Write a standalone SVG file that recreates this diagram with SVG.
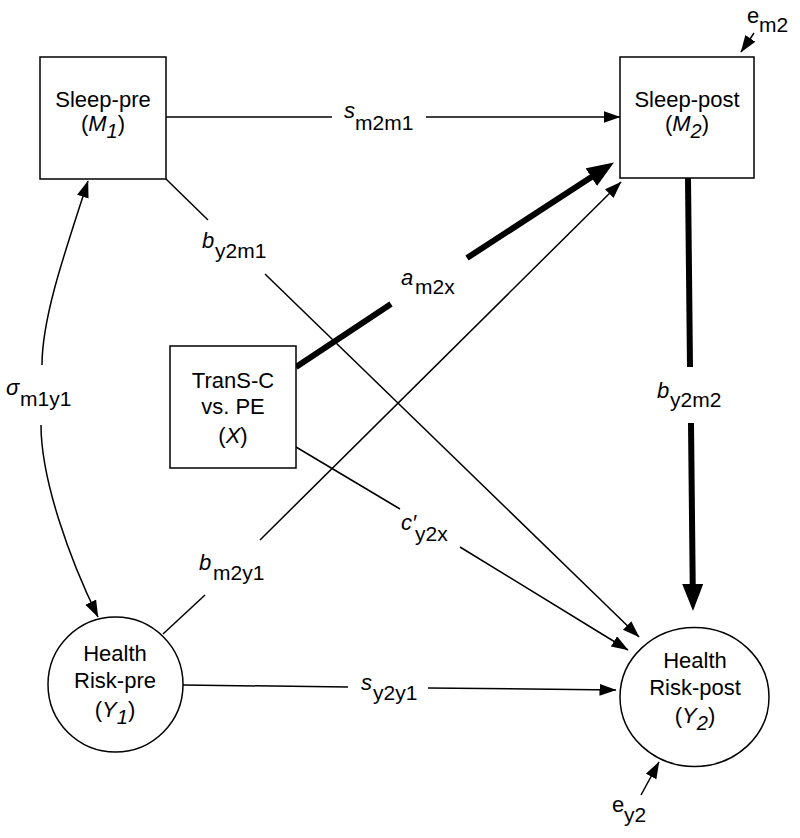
<svg xmlns="http://www.w3.org/2000/svg" width="800" height="838" viewBox="0 0 800 838">
<style>
  .box{fill:#fff;stroke:#000;stroke-width:1.5}
  .ln{stroke:#000;stroke-width:1.5;fill:none}
  .thick{stroke:#000;stroke-width:6;fill:none}
  text{font-family:"Liberation Sans",Arial,Helvetica,sans-serif;fill:#000}
  .nt{font-size:22px;text-anchor:middle}
  .it{font-style:italic}
  .lb{font-size:22px}
  .sub{font-size:21px;font-style:normal}
</style>
<defs>
  <marker id="ah" markerUnits="userSpaceOnUse" markerWidth="18" markerHeight="13" refX="16.5" refY="6" orient="auto-start-reverse" viewBox="0 0 18 13">
    <path d="M0,0 L17,6 L0,12 z" fill="#000"/>
  </marker>
  <marker id="ahb" markerUnits="userSpaceOnUse" markerWidth="28" markerHeight="22" refX="8" refY="10.5" orient="auto" viewBox="0 0 28 22">
    <path d="M0,0 L27,10.5 L0,21 z" fill="#000"/>
  </marker>
</defs>
<rect width="800" height="838" fill="#fff"/>

<g id="connectors">
  <!-- s_m2m1 -->
  <path class="ln" d="M166 117 L332 117"/>
  <path class="ln" d="M426 117 L620 117" marker-end="url(#ah)"/>
  <!-- b_y2m1 -->
  <path class="ln" d="M166 179 L208 220"/>
  <path class="ln" d="M265 274 L639 637" marker-end="url(#ah)"/>
  <!-- sigma m1y1 -->
  <path class="ln" d="M42 365 C42 320 62 260 88 181" marker-end="url(#ah)"/>
  <path class="ln" d="M41 425 C41 480 70 560 98 617" marker-end="url(#ah)"/>
  <!-- a_m2x -->
  <path class="thick" d="M296 367 L391 304"/>
  <path class="thick" d="M467 258 L598 172.8" marker-end="url(#ahb)"/>
  <!-- b_m2y1 -->
  <path class="ln" d="M163 634 L205 595"/>
  <path class="ln" d="M260 540 L621 182" marker-end="url(#ah)"/>
  <!-- c'_y2x -->
  <path class="ln" d="M296 447 L400 509"/>
  <path class="ln" d="M460 547 L628 650" marker-end="url(#ah)"/>
  <!-- b_y2m2 -->
  <path class="thick" d="M688 178 L690 367"/>
  <path class="thick" d="M691 423 L692.8 592" marker-end="url(#ahb)"/>
  <!-- s_y2y1 -->
  <path class="ln" d="M183 685 L348 687"/>
  <path class="ln" d="M428 688 L616 690" marker-end="url(#ah)"/>
  <!-- error terms -->
  <path class="ln" d="M754 33 L741 52" marker-end="url(#ah)"/>
  <path class="ln" d="M641 795 L659 762" marker-end="url(#ah)"/>

  <!-- labels -->
  <text class="lb"><tspan class="it" x="344" y="118">s</tspan><tspan class="sub" x="355" y="130">m2m1</tspan></text>
  <text class="lb"><tspan class="it" x="202" y="248">b</tspan><tspan class="sub" x="215" y="258">y2m1</tspan></text>
  <text class="lb"><tspan class="it" x="401" y="285">a</tspan><tspan class="sub" x="415" y="294">m2x</tspan></text>
  <text class="lb"><tspan class="it" x="6" y="395">σ</tspan><tspan class="sub" x="20" y="406">m1y1</tspan></text>
  <text class="lb"><tspan class="it" x="657" y="398">b</tspan><tspan class="sub" x="670" y="407">y2m2</tspan></text>
  <text class="lb"><tspan class="it" x="401" y="530">c′</tspan><tspan class="sub" x="415" y="541">y2x</tspan></text>
  <text class="lb"><tspan class="it" x="199" y="570">b</tspan><tspan class="sub" x="213" y="580">m2y1</tspan></text>
  <text class="lb"><tspan class="it" x="361" y="690">s</tspan><tspan class="sub" x="373" y="700">y2y1</tspan></text>
  <text class="lb"><tspan x="747" y="23">e</tspan><tspan class="sub" x="759" y="32">m2</tspan></text>
  <text class="lb"><tspan x="612" y="812">e</tspan><tspan class="sub" x="624" y="822">y2</tspan></text>
</g>

<g id="n_m1">
  <rect class="box" x="40" y="57" width="126" height="122"/>
  <text class="nt" x="103" y="107">Sleep-pre</text>
  <text class="nt" x="103" y="131">(<tspan class="it">M</tspan><tspan class="it" font-size="20" dy="7">1</tspan><tspan dy="-7">)</tspan></text>
</g>

<g id="n_m2">
  <rect class="box" x="620" y="57" width="134" height="121"/>
  <text class="nt" x="687" y="107">Sleep-post</text>
  <text class="nt" x="687" y="131">(<tspan class="it">M</tspan><tspan class="it" font-size="20" dy="7">2</tspan><tspan dy="-7">)</tspan></text>
</g>

<g id="n_x">
  <rect class="box" x="170" y="346" width="126" height="122"/>
  <text class="nt" x="233" y="388">TranS-C</text>
  <text class="nt" x="233" y="414">vs. PE</text>
  <text class="nt" x="233" y="443">(<tspan class="it">X</tspan>)</text>
</g>

<g id="n_y1">
  <circle class="box" cx="115.5" cy="684.5" r="67.5"/>
  <text class="nt" x="115" y="661">Health</text>
  <text class="nt" x="115" y="688">Risk-pre</text>
  <text class="nt" x="115" y="717">(<tspan class="it">Y</tspan><tspan class="it" font-size="20" dy="7">1</tspan><tspan dy="-7">)</tspan></text>
</g>

<g id="n_y2">
  <ellipse class="box" cx="694.5" cy="697" rx="74.5" ry="69.5"/>
  <text class="nt" x="695" y="668">Health</text>
  <text class="nt" x="695" y="695">Risk-post</text>
  <text class="nt" x="695" y="723">(<tspan class="it">Y</tspan><tspan class="it" font-size="20" dy="7">2</tspan><tspan dy="-7">)</tspan></text>
</g>
</svg>
